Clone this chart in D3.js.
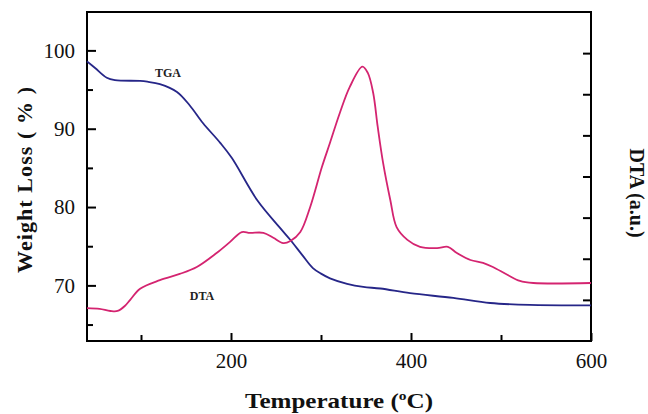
<!DOCTYPE html>
<html><head><meta charset="utf-8">
<script src="https://cdn.jsdelivr.net/npm/d3@7"></script>
<style>
html,body{margin:0;padding:0;background:#fff;}
text{font-family:"Liberation Serif","Times New Roman",Times,serif;}
</style></head>
<body>
<svg id="chart" width="648" height="414"></svg>
<script>
// ---- data ----
const tgaTemp = [40, 49, 62, 71, 99, 107, 121, 140, 154, 169, 188, 201, 229, 254, 266, 279, 291, 300, 310, 329, 347, 366, 399, 447, 488, 532, 600];
const tgaWeight = [98.6, 97.75, 96.5, 96.2, 96.1, 96.0, 95.7, 94.7, 93.0, 90.7, 88.2, 86.25, 80.9, 77.4, 75.8, 73.9, 72.2, 71.5, 70.9, 70.2, 69.8, 69.6, 69.0, 68.4, 67.75, 67.5, 67.45];
const dtaTemp = [40, 54, 66, 74, 82, 88, 99, 121, 143, 162, 184, 199, 212, 221, 236, 247, 258, 266, 277, 288, 301, 310, 321, 332, 346, 352, 358, 363, 369, 377, 384, 396, 410, 429, 441, 451, 466, 480, 491, 507, 521, 536, 600];
const dtaSignal = [0.80, 0.78, 0.73, 0.73, 0.85, 1.00, 1.27, 1.48, 1.63, 1.80, 2.14, 2.41, 2.65, 2.63, 2.63, 2.51, 2.38, 2.43, 2.65, 3.26, 4.23, 4.82, 5.55, 6.18, 6.67, 6.52, 6.03, 5.21, 4.33, 3.43, 2.77, 2.46, 2.29, 2.26, 2.29, 2.14, 1.97, 1.90, 1.80, 1.61, 1.46, 1.41, 1.41];
const xMajorTicks = [200, 400, 600];
const xMinorTicks = [100, 300, 500];
const yMajorTicks = [70, 80, 90, 100];
const yMinorTicks = [65, 75, 85, 95];
const dtaTicks = [1, 2, 3, 4, 5, 6, 7];

const svg = d3.select("#chart");
const L = 87, R = 591, T = 12, B = 341;
const x = d3.scaleLinear().domain([40, 600]).range([L, R]);
const y = d3.scaleLinear().domain([62.9, 104.9]).range([B, T]);
const yd = d3.scaleLinear().domain([0, 8]).range([B, T]);

function styleAxis(g){
  g.select(".domain").remove();
  g.selectAll("line").attr("stroke","#000").attr("stroke-width",2);
  g.selectAll("text").attr("font-size",21).attr("fill","#111");
}

// left axis
svg.append("g").attr("transform",`translate(${L},0)`)
  .call(d3.axisLeft(y).tickValues(yMajorTicks).tickSize(-9).tickPadding(12).tickFormat(d3.format("d")))
  .call(styleAxis);
svg.append("g").attr("transform",`translate(${L},0)`)
  .call(d3.axisLeft(y).tickValues(yMinorTicks).tickSize(-6).tickFormat(""))
  .call(styleAxis);
// bottom axis
svg.append("g").attr("transform",`translate(0,${B})`)
  .call(d3.axisBottom(x).tickValues(xMajorTicks).tickSize(-8).tickPadding(12).tickFormat(d3.format("d")))
  .call(styleAxis);
svg.append("g").attr("transform",`translate(0,${B})`)
  .call(d3.axisBottom(x).tickValues(xMinorTicks).tickSize(-6).tickFormat(""))
  .call(styleAxis);
// right axis (DTA, no labels)
svg.append("g").attr("transform",`translate(${R},0)`)
  .call(d3.axisRight(yd).tickValues(dtaTicks).tickSize(-8).tickFormat(""))
  .call(styleAxis);
svg.selectAll("g").attr("font-family",null);

// frame
svg.append("rect").attr("x",L).attr("y",T).attr("width",R-L).attr("height",B-T)
  .attr("fill","none").attr("stroke","#000").attr("stroke-width",2);

// lines
const tgaData = tgaTemp.map((t,i)=>[t,tgaWeight[i]]);
const dtaData = dtaTemp.map((t,i)=>[t,dtaSignal[i]]);
svg.append("path").datum(tgaData)
  .attr("d", d3.line().x(d=>x(d[0])).y(d=>y(d[1])).curve(d3.curveCatmullRom.alpha(0.5)))
  .attr("fill","none").attr("stroke","#262688").attr("stroke-width",1.8);
svg.append("path").datum(dtaData)
  .attr("d", d3.line().x(d=>x(d[0])).y(d=>yd(d[1])).curve(d3.curveCatmullRom.alpha(0.5)))
  .attr("fill","none").attr("stroke","#d42470").attr("stroke-width",1.8);

// curve labels
svg.append("text").attr("x",168).attr("y",77).attr("text-anchor","middle")
  .attr("font-size",12).attr("font-weight","bold").attr("fill","#222").text("TGA");
svg.append("text").attr("x",202).attr("y",300).attr("text-anchor","middle")
  .attr("font-size",12).attr("font-weight","bold").attr("fill","#222").text("DTA");

// axis titles
svg.append("text").attr("transform","translate(32,180) rotate(-90)").attr("text-anchor","middle")
  .attr("font-size",22).attr("font-weight","bold").attr("fill","#111")
  .attr("textLength",186).attr("lengthAdjust","spacing").text("Weight Loss ( % )");
const xt = svg.append("text").attr("x",339).attr("y",408).attr("text-anchor","middle")
  .attr("font-size",21).attr("font-weight","bold").attr("fill","#111")
  .attr("textLength",188).attr("lengthAdjust","spacingAndGlyphs");
xt.append("tspan").text("Temperature (");
xt.append("tspan").attr("font-size",13).attr("dy",-8).text("o");
xt.append("tspan").attr("dy",8).text("C)");
svg.append("text").attr("transform","translate(630,193) rotate(90)").attr("text-anchor","middle")
  .attr("font-size",20).attr("font-weight","bold").attr("fill","#111").text("DTA (a.u.)");
</script>
</body></html>
